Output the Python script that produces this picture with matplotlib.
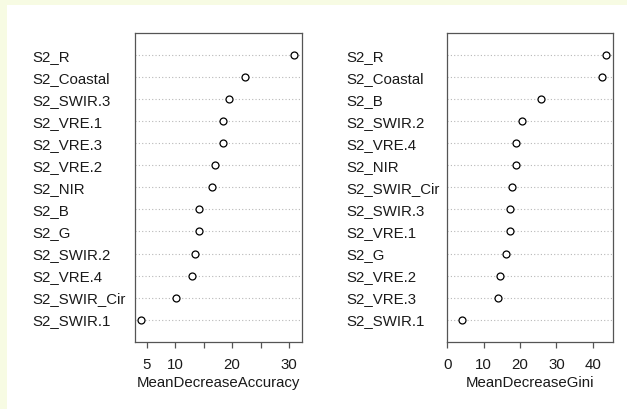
import matplotlib
matplotlib.use("Agg")
import matplotlib.pyplot as plt
from matplotlib.patches import Rectangle

plt.rcParams['font.family'] = ['Liberation Sans', 'DejaVu Sans']

# variable importance, listed bottom -> top as dotchart draws them
acc_names = ["S2_SWIR.1", "S2_SWIR_Cir", "S2_VRE.4", "S2_SWIR.2", "S2_G", "S2_B",
             "S2_NIR", "S2_VRE.2", "S2_VRE.3", "S2_VRE.1", "S2_SWIR.3",
             "S2_Coastal", "S2_R"]
acc_vals = [4.05, 10.1, 13.0, 13.4, 14.25, 14.25, 16.5, 17.05, 18.4, 18.4, 19.5,
            22.3, 30.8]

gini_names = ["S2_SWIR.1", "S2_VRE.3", "S2_VRE.2", "S2_G", "S2_VRE.1", "S2_SWIR.3",
              "S2_SWIR_Cir", "S2_NIR", "S2_VRE.4", "S2_SWIR.2", "S2_B",
              "S2_Coastal", "S2_R"]
gini_vals = [4.0, 14.0, 14.5, 16.2, 17.1, 17.1, 17.8, 18.9, 18.9, 20.5, 25.8,
             42.5, 43.6]

acc_ticks = [5, 10, 15, 20, 25, 30]
acc_ticklabels = ["5", "10", "", "20", "", "30"]
gini_ticks = [0, 10, 20, 30, 40]

fig = plt.figure(figsize=(6.27, 4.09), dpi=100)
fig.patch.set_facecolor("#f7fbe3")
fig.patches.append(Rectangle((7 / 627, 0), 1, (409 - 5) / 409, transform=fig.transFigure,
                             facecolor="white", edgecolor="none", zorder=-1))

fs = 10.8
txt = "#1a1a1a"
edge = "#555555"


def dotchart(ax, names, vals, xlim, ticks, ticklabels, xlabel, pad):
    n = len(names)
    ys = list(range(1, n + 1))
    for y in ys:
        ax.axhline(y, color="#b8b8b8", lw=0.8, ls=(0, (1, 2)), zorder=1)
    ax.plot(vals, ys, "o", mfc="white", mec="black", ms=5, mew=0.9, zorder=3)
    ax.set_ylim(0, n + 1)
    ax.set_xlim(*xlim)
    ax.set_yticks(ys)
    ax.set_yticklabels(names, fontsize=fs, color=txt, ha="left")
    ax.tick_params(axis="y", length=0, pad=pad)
    ax.set_xticks(ticks)
    ax.set_xticklabels(ticklabels, fontsize=fs, color=txt)
    ax.tick_params(axis="x", length=4.5, width=0.9, color=edge, pad=7)
    ax.set_xlabel(xlabel, fontsize=fs, color=txt, labelpad=3)
    for s in ax.spines.values():
        s.set_color(edge)
        s.set_linewidth(0.9)


ax1 = fig.add_axes([135 / 627, (409 - 341.7) / 409, 166.7 / 627, 308.7 / 409])
dotchart(ax1, acc_names, acc_vals, (2.95, 32.2), acc_ticks, acc_ticklabels,
         "MeanDecreaseAccuracy", 74)

ax2 = fig.add_axes([446.7 / 627, (409 - 341.7) / 409, 166 / 627, 308.7 / 409])
dotchart(ax2, gini_names, gini_vals, (-0.19, 45.5), gini_ticks,
         [str(t) for t in gini_ticks], "MeanDecreaseGini", 72.5)

fig.savefig("out.png", dpi=100, facecolor=fig.get_facecolor())
